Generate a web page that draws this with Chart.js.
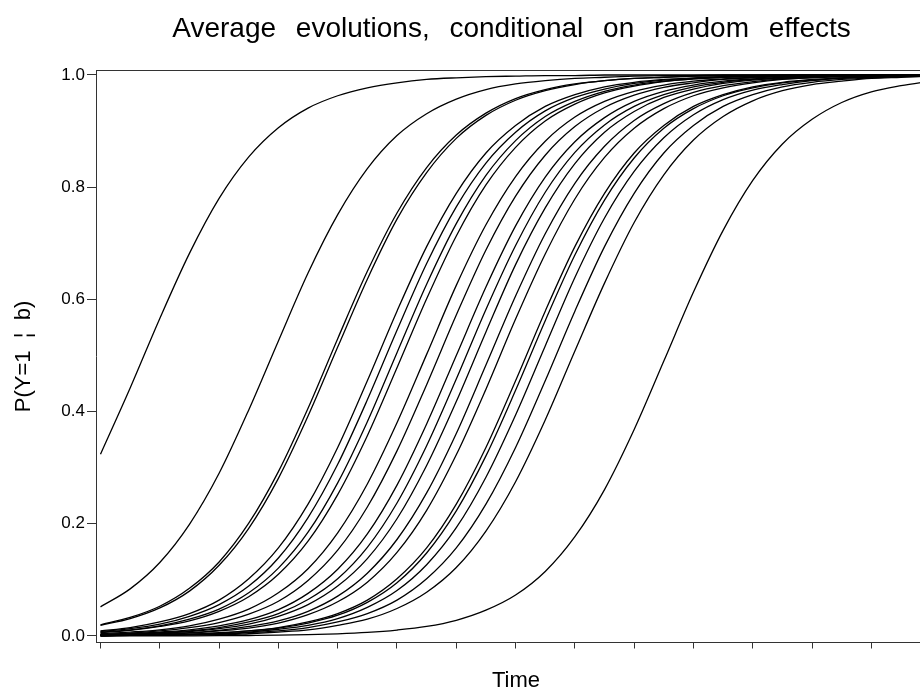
<!DOCTYPE html>
<html>
<head>
<meta charset="utf-8">
<script src="https://cdn.jsdelivr.net/npm/chart.js@4.4.1/dist/chart.umd.min.js"></script>
<style>
    html, body { margin: 0; padding: 0; background: #fff; overflow: hidden; width: 920px; height: 694px; }
    #wrap { position: relative; width: 920px; height: 694px; overflow: hidden; }
    #evoChart { position: absolute; left: 0; top: 0; }
</style>
</head>
<body>
<div id="wrap"><canvas id="evoChart" width="940" height="694"></canvas></div>
<script>
// sample times (half units) and the tick positions on the time axis (no labels shown)
const time = [0, 0.5, 1, 1.5, 2, 2.5, 3, 3.5, 4, 4.5, 5, 5.5, 6, 6.5, 7, 7.5, 8, 8.5, 9, 9.5, 10, 10.5, 11, 11.5, 12, 12.5, 13, 13.5, 14];
const timeTicks = [0, 1, 2, 3, 4, 5, 6, 7, 8, 9, 10, 11, 12, 13, 14];
const probTicks = [0, 0.2, 0.4, 0.6, 0.8, 1.0];

// P(Y=1 | b) per subject at each sample time
const curve01 = [0.324, 0.442, 0.566, 0.682, 0.780, 0.854, 0.906, 0.941, 0.963, 0.977, 0.986, 0.992, 0.995, 0.997, 0.998, 0.999, 0.999, 1.000, 1.000, 1.000, 1.000, 1.000, 1.000, 1.000, 1.000, 1.000, 1.000, 1.000, 1.000];
const curve02 = [0.052, 0.084, 0.131, 0.199, 0.290, 0.403, 0.526, 0.647, 0.751, 0.833, 0.892, 0.931, 0.957, 0.974, 0.984, 0.990, 0.994, 0.996, 0.998, 0.999, 0.999, 1.000, 1.000, 1.000, 1.000, 1.000, 1.000, 1.000, 1.000];
const curve03 = [0.020, 0.033, 0.053, 0.085, 0.132, 0.201, 0.293, 0.406, 0.530, 0.650, 0.754, 0.835, 0.893, 0.932, 0.958, 0.974, 0.984, 0.990, 0.994, 0.996, 0.998, 0.999, 0.999, 1.000, 1.000, 1.000, 1.000, 1.000, 1.000];
const curve04 = [0.019, 0.031, 0.050, 0.080, 0.126, 0.192, 0.281, 0.392, 0.515, 0.636, 0.743, 0.826, 0.887, 0.928, 0.955, 0.972, 0.983, 0.990, 0.994, 0.996, 0.998, 0.999, 0.999, 0.999, 1.000, 1.000, 1.000, 1.000, 1.000];
const curve05 = [0.009, 0.015, 0.025, 0.040, 0.064, 0.102, 0.157, 0.235, 0.336, 0.455, 0.579, 0.694, 0.789, 0.861, 0.910, 0.944, 0.965, 0.979, 0.987, 0.992, 0.995, 0.997, 0.998, 0.999, 0.999, 1.000, 1.000, 1.000, 1.000];
const curve06 = [0.008, 0.013, 0.021, 0.035, 0.056, 0.089, 0.139, 0.211, 0.306, 0.421, 0.545, 0.664, 0.765, 0.843, 0.898, 0.936, 0.960, 0.975, 0.985, 0.991, 0.994, 0.997, 0.998, 0.999, 0.999, 1.000, 1.000, 1.000, 1.000];
const curve07 = [0.007, 0.011, 0.018, 0.030, 0.048, 0.077, 0.121, 0.185, 0.273, 0.382, 0.505, 0.627, 0.735, 0.821, 0.883, 0.926, 0.953, 0.971, 0.982, 0.989, 0.993, 0.996, 0.998, 0.999, 0.999, 0.999, 1.000, 1.000, 1.000];
const curve08 = [0.006, 0.010, 0.017, 0.027, 0.044, 0.070, 0.110, 0.169, 0.252, 0.357, 0.478, 0.601, 0.713, 0.804, 0.871, 0.918, 0.948, 0.968, 0.980, 0.988, 0.993, 0.996, 0.997, 0.998, 0.999, 0.999, 1.000, 1.000, 1.000];
const curve09 = [0.004, 0.007, 0.011, 0.018, 0.030, 0.048, 0.077, 0.120, 0.184, 0.271, 0.380, 0.502, 0.625, 0.733, 0.819, 0.882, 0.925, 0.953, 0.971, 0.982, 0.989, 0.993, 0.996, 0.998, 0.999, 0.999, 0.999, 1.000, 1.000];
const curve10 = [0.003, 0.005, 0.009, 0.015, 0.024, 0.039, 0.062, 0.099, 0.153, 0.230, 0.330, 0.448, 0.572, 0.688, 0.784, 0.857, 0.908, 0.942, 0.964, 0.978, 0.986, 0.992, 0.995, 0.997, 0.998, 0.999, 0.999, 1.000, 1.000];
const curve11 = [0.002, 0.004, 0.007, 0.011, 0.018, 0.029, 0.047, 0.076, 0.119, 0.182, 0.269, 0.378, 0.500, 0.622, 0.731, 0.818, 0.881, 0.924, 0.953, 0.971, 0.982, 0.989, 0.993, 0.996, 0.998, 0.998, 0.999, 0.999, 1.000];
const curve12 = [0.002, 0.003, 0.006, 0.009, 0.015, 0.025, 0.040, 0.065, 0.102, 0.158, 0.237, 0.339, 0.458, 0.582, 0.696, 0.791, 0.862, 0.911, 0.944, 0.965, 0.979, 0.987, 0.992, 0.995, 0.997, 0.998, 0.999, 0.999, 1.000];
const curve13 = [0.002, 0.003, 0.005, 0.008, 0.013, 0.021, 0.035, 0.056, 0.089, 0.138, 0.209, 0.304, 0.418, 0.542, 0.662, 0.763, 0.842, 0.898, 0.935, 0.960, 0.975, 0.985, 0.991, 0.994, 0.997, 0.998, 0.999, 0.999, 1.000];
const curve14 = [0.001, 0.002, 0.004, 0.006, 0.010, 0.017, 0.027, 0.044, 0.071, 0.112, 0.172, 0.255, 0.361, 0.483, 0.606, 0.717, 0.807, 0.873, 0.919, 0.949, 0.969, 0.981, 0.988, 0.993, 0.996, 0.997, 0.998, 0.999, 0.999];
const curve15 = [0.001, 0.002, 0.003, 0.005, 0.009, 0.014, 0.023, 0.038, 0.061, 0.096, 0.149, 0.224, 0.323, 0.440, 0.565, 0.681, 0.779, 0.853, 0.905, 0.940, 0.963, 0.977, 0.986, 0.992, 0.995, 0.997, 0.998, 0.999, 0.999];
const curve16 = [0.001, 0.001, 0.002, 0.003, 0.006, 0.009, 0.015, 0.025, 0.040, 0.064, 0.102, 0.157, 0.235, 0.336, 0.455, 0.579, 0.694, 0.789, 0.861, 0.910, 0.944, 0.965, 0.979, 0.987, 0.992, 0.995, 0.997, 0.998, 0.999];
const curve17 = [0.001, 0.001, 0.002, 0.003, 0.005, 0.009, 0.014, 0.023, 0.037, 0.060, 0.095, 0.148, 0.223, 0.321, 0.438, 0.562, 0.679, 0.777, 0.852, 0.905, 0.940, 0.963, 0.977, 0.986, 0.991, 0.995, 0.997, 0.998, 0.999];
const curve18 = [0.001, 0.001, 0.002, 0.003, 0.004, 0.007, 0.012, 0.019, 0.031, 0.051, 0.081, 0.127, 0.193, 0.283, 0.394, 0.517, 0.639, 0.745, 0.828, 0.888, 0.929, 0.956, 0.973, 0.983, 0.990, 0.994, 0.996, 0.998, 0.999];
const curve19 = [0.000, 0.001, 0.001, 0.002, 0.003, 0.006, 0.009, 0.015, 0.025, 0.040, 0.064, 0.102, 0.157, 0.235, 0.336, 0.455, 0.579, 0.694, 0.789, 0.861, 0.910, 0.944, 0.965, 0.979, 0.987, 0.992, 0.995, 0.997, 0.998];
const curve20 = [0.000, 0.001, 0.001, 0.002, 0.002, 0.004, 0.007, 0.011, 0.019, 0.030, 0.049, 0.078, 0.122, 0.187, 0.275, 0.385, 0.508, 0.629, 0.737, 0.822, 0.884, 0.926, 0.954, 0.972, 0.983, 0.989, 0.994, 0.996, 0.998];
const curve21 = [0.0001, 0.0001, 0.0002, 0.0003, 0.0005, 0.0009, 0.0014, 0.0024, 0.0039, 0.0064, 0.0106, 0.017, 0.028, 0.046, 0.073, 0.115, 0.177, 0.261, 0.368, 0.490, 0.613, 0.723, 0.812, 0.877, 0.921, 0.951, 0.970, 0.981, 0.989];

const curves = [curve01, curve02, curve03, curve04, curve05, curve06, curve07, curve08, curve09, curve10, curve11,
    curve12, curve13, curve14, curve15, curve16, curve17, curve18, curve19, curve20, curve21];

const axisColor = '#333';
const fontFamily = '"Liberation Sans", Arial, Helvetica, sans-serif';

// title drawn by hand so it can sit off-centre and use wide word spacing like the original
const titlePlugin = {
    id: 'sasTitle',
    afterDraw(chart) {
        const ctx = chart.ctx;
        ctx.save();
        ctx.font = '28px ' + fontFamily;
        if ('wordSpacing' in ctx) ctx.wordSpacing = '12px';
        ctx.fillStyle = '#000';
        ctx.textAlign = 'center';
        ctx.textBaseline = 'alphabetic';
        ctx.fillText('Average evolutions, conditional on random effects', 511.5, 37);
        ctx.restore();
    }
};

// top edge of the frame
const frameTop = {
    id: 'frameTop',
    afterDraw(chart) {
        const {ctx, chartArea} = chart;
        ctx.save();
        ctx.strokeStyle = axisColor;
        ctx.lineWidth = 1;
        ctx.beginPath();
        ctx.moveTo(chartArea.left, chartArea.top);
        ctx.lineTo(chartArea.right, chartArea.top);
        ctx.stroke();
        ctx.restore();
    }
};

const datasets = curves.map((vals, i) => ({
    label: 'subject ' + (i + 1),
    data: time.map((t, k) => ({x: t, y: vals[k]})),
    borderColor: '#000',
    borderWidth: 1.3,
    pointRadius: 0,
    fill: false,
    cubicInterpolationMode: 'monotone'
}));

new Chart(document.getElementById('evoChart').getContext('2d'), {
    type: 'line',
    data: {datasets: datasets},
    options: {
        responsive: false,
        animation: false,
        events: [],
        layout: {padding: {top: 70.5, right: 4, left: 0, bottom: 0}},
        plugins: {
            legend: {display: false},
            tooltip: {enabled: false},
            title: {display: false}
        },
        scales: {
            x: {
                type: 'linear',
                min: -0.076,
                max: 14.09,
                afterBuildTicks: scale => { scale.ticks = timeTicks.map(v => ({value: v})); },
                afterFit: scale => { scale.height = 51.5; },
                grid: {display: true, drawOnChartArea: false, drawTicks: true, tickLength: 6, color: axisColor},
                border: {display: true, color: axisColor, width: 1},
                ticks: {display: false},
                title: {
                    display: true,
                    text: 'Time',
                    color: '#000',
                    font: {family: fontFamily, size: 22},
                    padding: {top: 0, bottom: 0}
                }
            },
            y: {
                type: 'linear',
                min: -0.0116,
                max: 1.008,
                afterBuildTicks: scale => { scale.ticks = probTicks.map(v => ({value: v})); },
                afterFit: scale => { scale.width = 96; },
                grid: {display: true, drawOnChartArea: false, drawTicks: true, tickLength: 9, color: axisColor},
                border: {display: true, color: axisColor, width: 1},
                ticks: {
                    color: '#000',
                    padding: 2,
                    font: {family: fontFamily, size: 17},
                    callback: v => v.toFixed(1)
                },
                title: {
                    display: true,
                    text: 'P(Y=1  \u00A6  b)',
                    color: '#000',
                    font: {family: fontFamily, size: 22},
                    padding: {top: 11, bottom: 0}
                }
            }
        }
    },
    plugins: [titlePlugin, frameTop]
});
</script>
</body>
</html>
